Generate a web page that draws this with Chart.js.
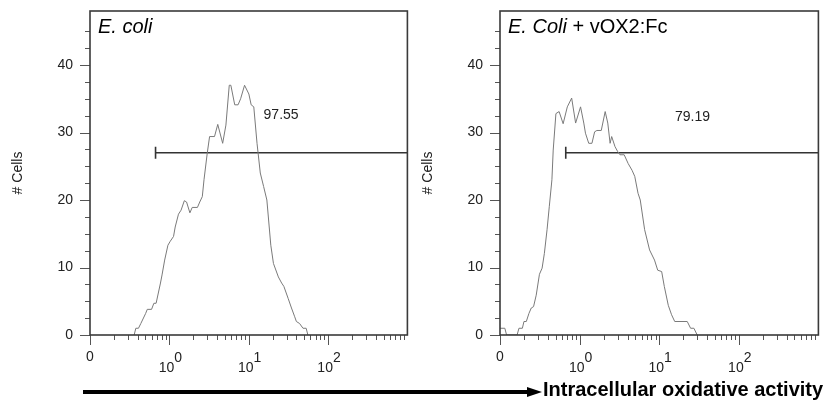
<!DOCTYPE html>
<html>
<head>
<meta charset="utf-8">
<script src="https://cdn.jsdelivr.net/npm/chart.js@4.4.1/dist/chart.umd.min.js"></script>
<style>
  body { margin: 0; background: #fff; width: 826px; height: 405px; position: relative; overflow: hidden; }
  canvas { position: absolute; top: 0; }
  #c1 { left: 0; }
  #c2 { left: 410px; }
  #arrow { position: absolute; left: 83px; top: 390px; width: 447px; height: 4px; background: #000; }
  #head { position: absolute; left: 527px; top: 387px; width: 0; height: 0;
          border-top: 5px solid transparent; border-bottom: 5px solid transparent; border-left: 15px solid #000; }
  #xlab { position: absolute; left: 543px; top: 379px; font: bold 20px Arial, "Liberation Sans", sans-serif;
          line-height: 20px; white-space: nowrap; color: #000; }
</style>
</head>
<body>
<canvas id="c1" width="415" height="405"></canvas>
<canvas id="c2" width="416" height="405"></canvas>
<div id="arrow"></div>
<div id="head"></div>
<div id="xlab">Intracellular oxidative activity</div>

<script>
// histogram E. coli (x = intensity, y = # cells)
const ecoliX = [0.36, 0.378, 0.408, 0.437, 0.503, 0.527, 0.597, 0.638, 0.681, 0.773, 0.809, 0.873, 0.959, 1.028,
  1.129, 1.185, 1.303, 1.406, 1.545, 1.648, 1.815, 1.941, 2.259, 2.416, 2.602, 2.734, 3.0, 3.214, 3.707, 4.074,
  4.697, 5.163, 5.689, 5.957, 6.668, 7.345, 7.909, 8.865, 10.05, 10.74, 11.59, 12.73, 14.0, 15.42, 16.94, 18.99,
  20.5, 23.65, 26.0, 27.75, 31.46, 34.6, 38.0, 39.9, 43.8, 48.3, 53.0, 55.7];
const ecoliY = [0, 1, 1, 1.7, 3.2, 3.8, 3.8, 4.7, 4.7, 7.7, 8.9, 11.1, 13.3, 13.9,
  14.6, 16, 17.9, 18.5, 19.9, 19.7, 18.1, 18.9, 18.9, 19.7, 20.5, 23, 26.9, 29.4, 29.4, 31.2,
  28.4, 31.1, 37, 37, 34.1, 34.1, 35, 37, 35.7, 34.1, 33.8, 28.4, 24, 22, 20, 13.3,
  10.6, 8.6, 7.7, 7.2, 5.4, 4, 2.7, 2, 1.7, 1, 1, 0];

// histogram E. coli + vOX2:Fc
const voxX = [0.1, 0.115, 0.121, 0.164, 0.173, 0.191, 0.2, 0.214, 0.231, 0.247, 0.264, 0.285, 0.313, 0.338,
  0.361, 0.39, 0.416, 0.449, 0.466, 0.504, 0.553, 0.621, 0.701, 0.795, 0.891, 1.028, 1.129, 1.185, 1.303,
  1.429, 1.545, 1.648, 1.871, 2.096, 2.259, 2.416, 2.529, 2.786, 3.0, 3.214, 3.631, 4.074, 4.56, 4.932,
  5.42, 5.781, 6.561, 7.568, 8.73, 9.58, 10.74, 11.59, 13.0, 14.3, 15.67, 22.5, 24.8, 27.3, 30.0];
const voxY = [1, 1, 0, 0, 1, 1, 2, 2, 3.2, 4, 4.2, 5.9, 9, 9.9,
  12.1, 15.6, 19, 23, 27.4, 32.8, 33.1, 31.3, 33.8, 35.1, 31.4, 33.8, 31.4, 29.9, 28.4,
  28.4, 30.1, 30.3, 30.3, 33.1, 31.4, 28.4, 29.4, 27.9, 27.2, 26.7, 26.7, 25.4, 24.4, 23.5,
  21, 20, 15.6, 12.6, 11.1, 9.6, 9.4, 7.2, 4.4, 3, 2, 2, 1, 1, 0];

// gate (marker) and its percentage
const gateFrom = 0.67, gateTo = 1000, gateLevel = 27;
const gateText = ['97.55', '79.19'];
const gateTextX = [25.6, 26.2];
const gateTextY = [32.6, 32.3];

// axis ticks
const xTickValues = [0.1, 1, 10, 100];
const xTickBase = ['0', '10', '10', '10'];
const xTickExp = ['', '0', '1', '2'];
const yMajorTicks = [0, 10, 20, 30, 40];

const FONT = 'Arial, "Liberation Sans", sans-serif';

const decoPlugin = {
  id: 'deco',
  afterDraw(chart, args, opts) {
    const ctx = chart.ctx;
    const a = chart.chartArea;
    const xs = chart.scales.x, ys = chart.scales.y;
    ctx.save();

    // ticks
    ctx.strokeStyle = '#555';
    ctx.lineWidth = 1;
    ctx.beginPath();
    ys.ticks.forEach(t => {
      if (t.value % 2.5 !== 0 || t.value >= ys.max) return;
      const py = Math.round(ys.getPixelForValue(t.value)) + 0.5;
      const len = yMajorTicks.includes(t.value) ? 10 : 5;
      ctx.moveTo(a.left - len, py);
      ctx.lineTo(a.left, py);
    });
    xTickValues.forEach(v => {
      for (let k = 1; k <= 9; k++) {
        const px = Math.round(xs.getPixelForValue(v * k)) + 0.5;
        const len = k === 1 ? 10 : 5;
        ctx.moveTo(px, a.bottom);
        ctx.lineTo(px, a.bottom + len);
      }
    });
    ctx.stroke();

    // frame
    ctx.strokeStyle = '#3a3a3a';
    ctx.lineWidth = 1.6;
    ctx.strokeRect(a.left, a.top, a.right - a.left, a.bottom - a.top);

    // x tick labels with exponents
    ctx.fillStyle = '#222';
    ctx.font = '14px ' + FONT;
    ctx.textBaseline = 'alphabetic';
    ctx.textAlign = 'left';
    xTickValues.forEach((v, i) => {
      const px = xs.getPixelForValue(v);
      const bw = ctx.measureText(xTickBase[i]).width;
      if (!xTickExp[i]) {
        ctx.fillText(xTickBase[i], px - bw / 2, a.bottom + 26);
        return;
      }
      const ew = ctx.measureText(xTickExp[i]).width;
      const x0 = px - (bw + ew) / 2 + 1;
      ctx.fillText(xTickBase[i], x0, a.bottom + 37);
      ctx.fillText(xTickExp[i], x0 + bw, a.bottom + 27);
    });

    // panel title
    let tx = a.left + 8;
    opts.title.forEach(part => {
      ctx.font = (part.italic ? 'italic ' : '') + '20px ' + FONT;
      ctx.fillStyle = '#000';
      ctx.fillText(part.text, tx, a.top + 22);
      tx += ctx.measureText(part.text).width;
    });

    // gate percentage
    ctx.font = '14px ' + FONT;
    ctx.fillStyle = '#222';
    ctx.textAlign = 'center';
    ctx.textBaseline = 'middle';
    ctx.fillText(opts.label, xs.getPixelForValue(opts.labelX), ys.getPixelForValue(opts.labelY));
    ctx.restore();
  }
};

function makePanel(id, xs, ys, idx, title, rightPad) {
  const hist = xs.map((x, i) => ({ x: x, y: ys[i] }));
  new Chart(document.getElementById(id), {
    type: 'line',
    data: {
      datasets: [
        {
          data: hist,
          borderColor: '#7a7a7a',
          borderWidth: 1,
          pointRadius: 0,
          tension: 0
        },
        {
          data: [{ x: gateFrom, y: gateLevel }, { x: gateTo, y: gateLevel }],
          borderColor: '#333',
          borderWidth: 1.6,
          pointStyle: 'line',
          rotation: 90,
          pointRadius: [6, 0],
          pointBorderColor: '#333',
          pointBorderWidth: 1.6
        }
      ]
    },
    options: {
      responsive: false,
      animation: false,
      layout: { padding: { top: 11, right: rightPad, left: 0, bottom: 0 } },
      plugins: {
        legend: { display: false },
        tooltip: { enabled: false },
        deco: { title: title, label: gateText[idx], labelX: gateTextX[idx], labelY: gateTextY[idx] }
      },
      scales: {
        x: {
          type: 'logarithmic',
          min: 0.1,
          max: 1000,
          ticks: { display: false },
          grid: { display: false },
          border: { display: false },
          afterFit(s) { s.height = 70; s.paddingLeft = 0; s.paddingRight = 0; }
        },
        y: {
          min: 0,
          max: 48,
          ticks: {
            stepSize: 2.5,
            autoSkip: false,
            padding: 17,
            color: '#222',
            font: { size: 14, family: FONT },
            callback: v => (yMajorTicks.includes(v) ? String(v) : '')
          },
          grid: { display: false, drawTicks: false },
          border: { display: false },
          title: {
            display: true,
            text: '# Cells',
            color: '#222',
            font: { size: 14, family: FONT },
            padding: { top: 10, bottom: 0 }
          },
          afterFit(s) { s.width = 90; s.paddingTop = 0; s.paddingBottom = 0; }
        }
      }
    },
    plugins: [decoPlugin]
  });
}

makePanel('c1', ecoliX, ecoliY, 0, [{ text: 'E. coli', italic: true }], 2);
makePanel('c2', voxX, voxY, 1, [{ text: 'E. Coli', italic: true }, { text: ' + vOX2:Fc', italic: false }], 3);
</script>
</body>
</html>
